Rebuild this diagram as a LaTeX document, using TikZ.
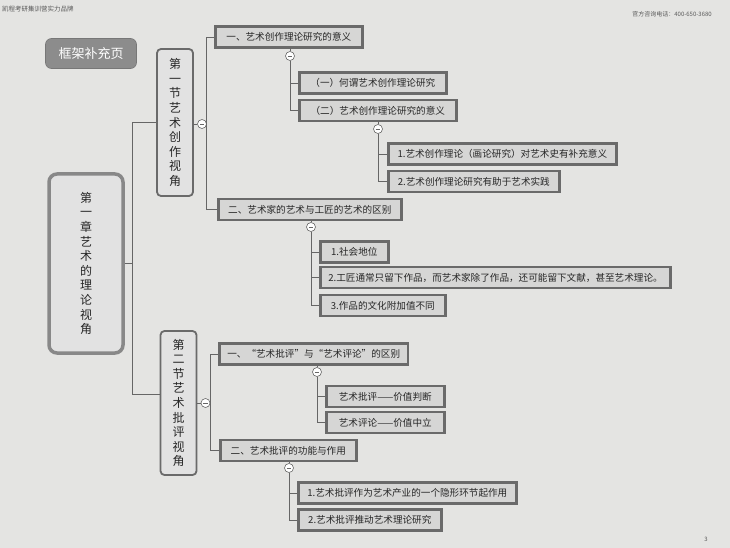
\documentclass[tikz,border=0pt]{standalone}
\usepackage{fontspec}
\setmainfont{Noto Sans CJK SC}
\usetikzlibrary{positioning}
\definecolor{paper}{HTML}{E4E4E2}
\definecolor{boxfill}{HTML}{D6D6D5}
\definecolor{boxline}{HTML}{6A6A6A}
\definecolor{linegray}{HTML}{666666}
\definecolor{inktext}{HTML}{262626}
\definecolor{tagfill}{HTML}{8C8C8C}

\begin{document}
\begin{tikzpicture}[x=10pt,y=10pt,
  topic/.style={draw=boxline,line width=2.6pt,fill=boxfill,text=inktext,anchor=west,
    font=\fontsize{9.6}{12}\selectfont,minimum height=21pt,inner xsep=8pt,inner ysep=0pt},
  stack/.style={draw=boxline,line width=1.8pt,fill=boxfill!70!white,rounded corners=4pt,
    text=inktext,align=center,font=\fontsize{12}{14.6}\selectfont,
    minimum width=36pt,minimum height=147pt,inner sep=0pt},
  chapter/.style={stack,draw=boxline!80!white,line width=3.5pt,rounded corners=8pt,
    minimum width=74pt,minimum height=179pt},
  tag/.style={fill=tagfill,draw=tagfill!85!black,line width=0.6pt,rounded corners=6pt,
    text=white,font=\fontsize{13}{15}\selectfont,minimum width=91pt,minimum height=30pt},
  fold/.style={circle,draw=linegray,fill=white,line width=0.6pt,minimum size=9pt,inner sep=0pt,
    path picture={\draw[linegray,line width=0.7pt] (-2.4pt,0)--(2.4pt,0);}},
  link/.style={draw=linegray,line width=0.9pt},
  small/.style={text=inktext!75,inner sep=0pt}]
\fill [paper] (0,0) rectangle (73,-54.8);
\useasboundingbox (0,0) rectangle (73,-54.8);
\node [small,anchor=west,font=\fontsize{6.5}{7}\selectfont] (brand) at (0.2,-0.9) {凯程考研集训营实力品牌};
\node [small,anchor=east,font=\fontsize{6}{7}\selectfont] (phone) at (71.2,-1.4) {官方咨询电话：400-650-3680};
\node [small,font=\fontsize{6}{7}\selectfont] (pageno) at (70.6,-53.9) {3};
\node [tag] (tag) at (9.1,-5.35) {框架补充页};
\node [chapter] (ch) at (8.6,-26.35) {第\\一\\章\\艺\\术\\的\\理\\论\\视\\角};
\node [stack] (s1) at (17.5,-12.25) {第\\一\\节\\艺\\术\\创\\作\\视\\角};
\node [stack,minimum height=144pt] (s2) at (17.85,-40.3) {第\\二\\节\\艺\\术\\批\\评\\视\\角};
\node [topic,minimum width=147pt] (a1) at (21.4,-3.7) {一、艺术创作理论研究的意义};
\node [topic,minimum width=147pt] (b1) at (29.8,-8.3) {（一）何谓艺术创作理论研究};
\node [topic,minimum width=157pt] (b2) at (29.8,-11.05) {（二）艺术创作理论研究的意义};
\node [topic,minimum width=228pt] (c1) at (38.7,-15.4) {1.艺术创作理论（画论研究）对艺术史有补充意义};
\node [topic,minimum width=171pt] (c2) at (38.7,-18.15) {2.艺术创作理论研究有助于艺术实践};
\node [topic,minimum width=183pt] (a2) at (21.7,-20.95) {二、艺术家的艺术与工匠的艺术的区别};
\node [topic,minimum width=68pt] (d1) at (31.9,-25.2) {1.社会地位};
\node [topic,minimum width=350pt] (d2) at (31.9,-27.75) {2.工匠通常只留下作品，而艺术家除了作品，还可能留下文献，甚至艺术理论。};
\node [topic,minimum width=125pt] (d3) at (31.9,-30.55) {3.作品的文化附加值不同};
\node [topic,minimum width=183pt] (e1) at (21.8,-35.4) {一、“艺术批评”与“艺术评论”的区别};
\node [topic,minimum width=118pt] (f1) at (32.5,-39.65) {艺术批评——价值判断};
\node [topic,minimum width=118pt] (f2) at (32.5,-42.25) {艺术评论——价值中立};
\node [topic,minimum width=136pt] (e2) at (21.9,-45.05) {二、艺术批评的功能与作用};
\node [topic,minimum width=218pt] (g1) at (29.7,-49.3) {1.艺术批评作为艺术产业的一个隐形环节起作用};
\node [topic,minimum width=143pt] (g2) at (29.7,-52.0) {2.艺术批评推动艺术理论研究};
\node [fold] (s1col) at (20.2,-12.4) {};
\node [fold] (s2col) at (20.55,-40.3) {};
\node [fold] (a1col) at (29.0,-5.6) {};
\node [fold] (b2col) at (37.8,-12.9) {};
\node [fold] (a2col) at (31.1,-22.7) {};
\node [fold] (e1col) at (31.7,-37.2) {};
\node [fold] (e2col) at (28.9,-46.8) {};
\coordinate (chj) at (13.2,-26.35);
\draw [link] (ch.east) -- (chj);
\draw [link] (chj) |- (s1.west);
\draw [link] (chj) |- ([yshift=9pt]s2.west);
\draw [link] (s1.east |- s1col) -- (s1col.west);
\draw [link] (s1col.east) |- (a1.west);
\draw [link] (s1col.east) |- (a2.west);
\draw [link] (s2.east |- s2col) -- (s2col.west);
\draw [link] (s2col.east) |- (e1.west);
\draw [link] (s2col.east) |- (e2.west);
\draw [link] (a1.south -| a1col) -- (a1col.north);
\draw [link] (a1col.south) |- (b1.west);
\draw [link] (a1col.south) |- (b2.west);
\draw [link] (b2.south -| b2col) -- (b2col.north);
\draw [link] (b2col.south) |- (c1.west);
\draw [link] (b2col.south) |- (c2.west);
\draw [link] (a2.south -| a2col) -- (a2col.north);
\draw [link] (a2col.south) |- (d1.west);
\draw [link] (a2col.south) |- (d2.west);
\draw [link] (a2col.south) |- (d3.west);
\draw [link] (e1.south -| e1col) -- (e1col.north);
\draw [link] (e1col.south) |- (f1.west);
\draw [link] (e1col.south) |- (f2.west);
\draw [link] (e2.south -| e2col) -- (e2col.north);
\draw [link] (e2col.south) |- (g1.west);
\draw [link] (e2col.south) |- (g2.west);
\end{tikzpicture}
\end{document}
